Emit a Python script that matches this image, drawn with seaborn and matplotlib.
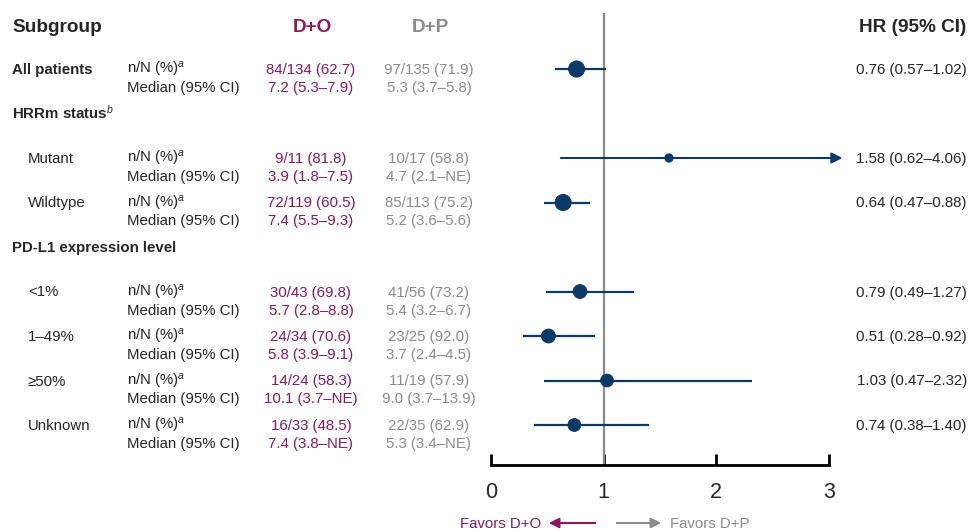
import matplotlib
matplotlib.use("Agg")
import matplotlib.pyplot as plt
import seaborn as sns
import pandas as pd

# ---------------- data ----------------
subgroups = ["All patients", "Mutant", "Wildtype", "<1%", "1\u201349%", "\u226550%", "Unknown"]
do_nN = ["84/134 (62.7)", "9/11 (81.8)", "72/119 (60.5)", "30/43 (69.8)", "24/34 (70.6)", "14/24 (58.3)", "16/33 (48.5)"]
do_median = ["7.2 (5.3\u20137.9)", "3.9 (1.8\u20137.5)", "7.4 (5.5\u20139.3)", "5.7 (2.8\u20138.8)", "5.8 (3.9\u20139.1)", "10.1 (3.7\u2013NE)", "7.4 (3.8\u2013NE)"]
dp_nN = ["97/135 (71.9)", "10/17 (58.8)", "85/113 (75.2)", "41/56 (73.2)", "23/25 (92.0)", "11/19 (57.9)", "22/35 (62.9)"]
dp_median = ["5.3 (3.7\u20135.8)", "4.7 (2.1\u2013NE)", "5.2 (3.6\u20135.6)", "5.4 (3.2\u20136.7)", "3.7 (2.4\u20134.5)", "9.0 (3.7\u201313.9)", "5.3 (3.4\u2013NE)"]
hr = [0.76, 1.58, 0.64, 0.79, 0.51, 1.03, 0.74]
ci_low = [0.57, 0.62, 0.47, 0.49, 0.28, 0.47, 0.38]
ci_high = [1.02, 4.06, 0.88, 1.27, 0.92, 2.32, 1.40]
group_headers = ["HRRm status", "PD-L1 expression level"]
x_ticks = [0, 1, 2, 3]

# ---------------- layout / style ----------------
W, H = 970, 532
row_slots = [0, 2, 3, 5, 6, 7, 8]
header_slots = [1, 4]
marker_sizes = [135, 36, 135, 100, 100, 85, 85]
indent = [False, True, True, True, True, True, True]
MAROON = "#8a1a5c"
GREY = "#8c8c8c"
NAVY = "#0b3a66"
XMAX_DRAW = 3.12

sns.set_theme(style="white")
plt.rcParams["font.family"] = ["Liberation Sans", "DejaVu Sans"]
plt.rcParams["mathtext.fontset"] = "custom"
plt.rcParams["mathtext.rm"] = "Liberation Sans"
plt.rcParams["mathtext.it"] = "Liberation Sans:italic"

fig = plt.figure(figsize=(W / 100, H / 100), dpi=100)

def slot_y(s):
    return 69 + 44.5 * s

def fx(x):
    return x / W

def fy(y):
    return 1 - y / H

# forest axes: x 0..3 at pixels 491..829, y from 13 to 465
ax_left, ax_right, ax_top, ax_bot = 491, 829, 13, 465
ax = fig.add_axes([fx(ax_left), fy(ax_bot), (ax_right - ax_left) / W, (ax_bot - ax_top) / H])
ax.set_xlim(0, 3)
ax.set_ylim((ax_bot - 69) / 44.5, (ax_top - 69) / 44.5)
ax.patch.set_alpha(0)

df = pd.DataFrame({"subgroup": subgroups, "hr": hr, "lo": ci_low, "hi": ci_high,
                   "slot": row_slots, "size": marker_sizes})

ax.axvline(1, color="#8a8a8a", lw=1.6, zorder=1)
for _, r in df.iterrows():
    if r["hi"] > 3:
        ax.annotate("", xy=(XMAX_DRAW, r["slot"]), xytext=(r["lo"], r["slot"]),
                    arrowprops=dict(arrowstyle="-|>", color=NAVY, lw=1.5,
                                    mutation_scale=16, shrinkA=0, shrinkB=0),
                    annotation_clip=False, zorder=2)
    else:
        ax.hlines(r["slot"], r["lo"], r["hi"], color=NAVY, lw=1.6, zorder=2, clip_on=False)

sns.scatterplot(data=df, x="hr", y="slot", size="size", sizes=(min(marker_sizes), max(marker_sizes)),
                color=NAVY, edgecolor=NAVY, legend=False, ax=ax, zorder=3, clip_on=False)

for sp in ["top", "left", "right"]:
    ax.spines[sp].set_visible(False)
ax.spines["bottom"].set_color("black")
ax.spines["bottom"].set_linewidth(2)
ax.set_yticks([])
ax.set_xticks(x_ticks)
ax.set_xticklabels([str(t) for t in x_ticks])
ax.tick_params(axis="x", direction="in", length=8, width=2, color="black", pad=12,
               labelsize=15.5, bottom=True)
ax.set_xlabel("")
ax.set_ylabel("")

# ---------------- table text ----------------
FS = 10.8
HFS = 13.7
BL = 5  # baseline offset from row centre, px

def put(x, y, s, **kw):
    fig.text(fx(x), fy(y + BL), s, va="baseline", **kw)

fig.text(fx(12), fy(27), "Subgroup", fontsize=HFS, fontweight="bold", va="center", ha="left")
fig.text(fx(312), fy(27), "D+O", fontsize=HFS, fontweight="bold", color=MAROON, va="center", ha="center")
fig.text(fx(430), fy(27), "D+P", fontsize=HFS, fontweight="bold", color=GREY, va="center", ha="center")
fig.text(fx(966), fy(27), "HR (95% CI)", fontsize=HFS, fontweight="bold", va="center", ha="right")

put(12, slot_y(header_slots[0]), group_headers[0] + r"$^{b}$", fontsize=FS, fontweight="bold", ha="left")
put(12, slot_y(header_slots[1]), group_headers[1], fontsize=FS, fontweight="bold", ha="left")

for i, name in enumerate(subgroups):
    y1 = slot_y(row_slots[i])
    y2 = y1 + 18
    if indent[i]:
        put(28, y1, name, fontsize=FS, ha="left")
    else:
        put(12, y1, name, fontsize=FS, fontweight="bold", ha="left")
    put(127, y1, r"n/N (%)$^{a}$", fontsize=FS, ha="left")
    put(127, y2, "Median (95% CI)", fontsize=FS, ha="left")
    put(311, y1, do_nN[i], fontsize=FS, color=MAROON, ha="center")
    put(311, y2, do_median[i], fontsize=FS, color=MAROON, ha="center")
    put(429, y1, dp_nN[i], fontsize=FS, color=GREY, ha="center")
    put(429, y2, dp_median[i], fontsize=FS, color=GREY, ha="center")
    put(967, y1, f"{hr[i]:.2f} ({ci_low[i]:.2f}\u2013{ci_high[i]:.2f})", fontsize=FS, ha="right")

# favors arrows
put(541, 523, "Favors D+O", fontsize=FS, color=MAROON, ha="right")
put(670, 523, "Favors D+P", fontsize=FS, color=GREY, ha="left")
ya = fy(523)
fig.add_artist(matplotlib.patches.FancyArrowPatch((fx(598), ya), (fx(546), ya), transform=fig.transFigure,
               arrowstyle="-|>", mutation_scale=15, color=MAROON, lw=1.5))
fig.add_artist(matplotlib.patches.FancyArrowPatch((fx(614), ya), (fx(664), ya), transform=fig.transFigure,
               arrowstyle="-|>", mutation_scale=15, color=GREY, lw=1.5))

fig.savefig("out.png", dpi=100, facecolor="white")
